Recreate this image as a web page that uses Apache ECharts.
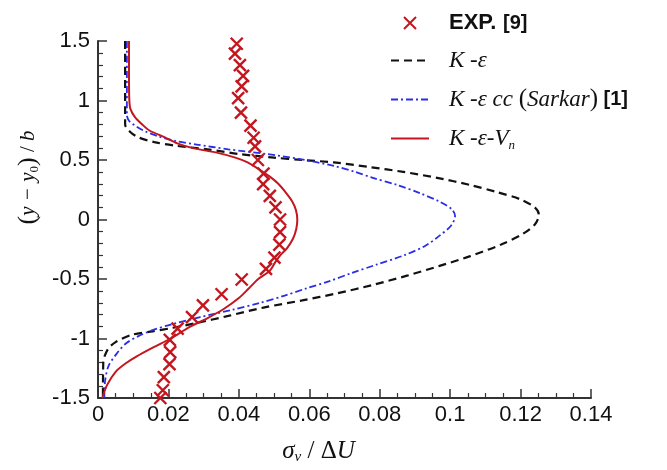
<!DOCTYPE html>
<html>
<head>
<meta charset="utf-8">
<script src="https://cdn.jsdelivr.net/npm/echarts@6/dist/echarts.min.js"></script>
<style>
  html, body { margin: 0; padding: 0; background: #ffffff; }
  #chart { width: 667px; height: 470px; }
</style>
</head>
<body>
<div id="chart"></div>
<script>
// Measured profile: sigma_v / dU (x) against (y - y0) / b (y)
const expX = [0.0394, 0.0389, 0.0403, 0.0412, 0.0408, 0.0398, 0.0406, 0.0433, 0.0442, 0.0446,
              0.0454, 0.0470, 0.0469, 0.0488, 0.0504, 0.0517, 0.0517, 0.0515, 0.0501, 0.0477,
              0.0408, 0.0351, 0.0298, 0.0267, 0.0226, 0.0204, 0.0205, 0.0203, 0.0187, 0.0184, 0.0177];
const expY = [1.477, 1.394, 1.297, 1.207, 1.118, 1.020, 0.898, 0.789, 0.687, 0.614,
              0.500, 0.386, 0.297, 0.199, 0.102, 0.000, -0.106, -0.211, -0.321, -0.415,
              -0.504, -0.628, -0.721, -0.821, -0.917, -1.012, -1.115, -1.215, -1.325, -1.435, -1.500];

// Standard K-epsilon model
const keY = [1.5, 0.8, 0.74, 0.69, 0.65, 0.62, 0.59, 0.55, 0.52, 0.5, 0.48, 0.44, 0.40, 0.35, 0.29, 0.23,
             0.17, 0.10, 0.04, -0.04, -0.12, -0.21, -0.31, -0.39, -0.47, -0.55, -0.62, -0.68, -0.74,
             -0.81, -0.87, -0.91, -0.94, -0.97, -1.03, -1.09, -1.2, -1.5];
const keX = [0.0077, 0.0077, 0.0090, 0.0115, 0.0160, 0.0220, 0.0310, 0.0400, 0.0500, 0.0580, 0.0670,
             0.0773, 0.0867, 0.0963, 0.1057, 0.1133, 0.1199, 0.1241, 0.1252, 0.1241, 0.1207, 0.1145,
             0.1055, 0.0970, 0.0880, 0.0780, 0.0680, 0.0580, 0.0470, 0.0370, 0.0280, 0.0213, 0.0155,
             0.0095, 0.0050, 0.0028, 0.0015, 0.0014];

// K-epsilon with compressibility correction (Sarkar)
const kccY = [1.5, 0.88, 0.83, 0.78, 0.74, 0.70, 0.66, 0.63, 0.59, 0.55, 0.51, 0.45, 0.40, 0.35, 0.29,
              0.22, 0.15, 0.085, 0.03, -0.05, -0.14, -0.22, -0.30, -0.38, -0.45, -0.52, -0.58, -0.64,
              -0.70, -0.76, -0.82, -0.88, -0.93, -0.98, -1.04, -1.12, -1.23, -1.36, -1.5];
const kccX = [0.0082, 0.0082, 0.0088, 0.0110, 0.0135, 0.0170, 0.0220, 0.0280, 0.0370, 0.0480, 0.0570,
              0.0670, 0.0730, 0.0780, 0.0850, 0.0915, 0.0970, 0.1005, 0.1014, 0.1003, 0.0968, 0.0930,
              0.0870, 0.0790, 0.0720, 0.0655, 0.0590, 0.0530, 0.0460, 0.0380, 0.0290, 0.0210, 0.0155,
              0.0115, 0.0080, 0.0055, 0.0030, 0.0020, 0.0018];

// K-epsilon-Vn model
const kvnY = [1.5, 1.2, 1.0, 0.93, 0.86, 0.80, 0.75, 0.69, 0.64, 0.60, 0.56, 0.52, 0.48, 0.42, 0.36,
              0.30, 0.22, 0.15, 0.08, 0.0, -0.08, -0.16, -0.24, -0.30, -0.36, -0.43, -0.50, -0.58,
              -0.66, -0.75, -0.83, -0.90, -1.0, -1.07, -1.15, -1.21, -1.28, -1.39, -1.5];
const kvnX = [0.0088, 0.0088, 0.0089, 0.0092, 0.0105, 0.0125, 0.0145, 0.0190, 0.0225, 0.0270, 0.0340,
              0.0390, 0.0425, 0.0458, 0.0488, 0.0512, 0.0535, 0.0552, 0.0562, 0.0566, 0.0563, 0.0554,
              0.0537, 0.0518, 0.0503, 0.0488, 0.0455, 0.0428, 0.0400, 0.0358, 0.0310, 0.0262, 0.0206,
              0.0160, 0.0110, 0.0078, 0.0050, 0.0026, 0.0012];

const xTicks = { min: 0, max: 0.14, step: 0.02 };
const yTicks = { min: -1.5, max: 1.5, step: 0.5 };

const pairs = (xs, ys) => xs.map((x, i) => [x, ys[i]]);

const RED = '#c4161f';
const BLUE = '#2a2ee6';
const BLACK = '#111111';
const AXIS = '#333333';
const crossPath = 'path://M0,0L10,10M10,0L0,10';

const chart = echarts.init(document.getElementById('chart'), null, { renderer: 'canvas' });

// line entries in the legend show the stroke only, without the point marker
const lineEntry = name => ({ name: name, itemStyle: { opacity: 0 } });

chart.setOption({
  backgroundColor: '#ffffff',
  animation: false,
  grid: { left: 98, right: 76, top: 41, bottom: 60, containLabel: false },
  legend: {
    orient: 'vertical',
    left: 385,
    top: 7,
    itemWidth: 38,
    itemHeight: 12,
    itemGap: 15,
    data: [
      { name: 'EXP. [9]' },
      lineEntry('K-ε'),
      lineEntry('K-ε cc (Sarkar) [1]'),
      lineEntry('K-ε-Vn')
    ],
    textStyle: {
      padding: [0, 0, 0, 15],
      color: '#111',
      rich: {
        exp: { fontFamily: 'Liberation Sans', fontWeight: 'bold', fontSize: 22, color: '#111' },
        ref: { fontFamily: 'Liberation Sans', fontWeight: 'bold', fontSize: 20, color: '#111' },
        it: { fontFamily: 'Liberation Serif', fontStyle: 'italic', fontSize: 23, color: '#111' },
        par: { fontFamily: 'Liberation Serif', fontSize: 25, color: '#111' },
        sub: { fontFamily: 'Liberation Serif', fontStyle: 'italic', fontSize: 13, color: '#111', padding: [14, 0, 0, 0] }
      }
    },
    formatter: function (name) {
      if (name === 'EXP. [9]') return '{exp|EXP.}  {ref|[9]}';
      if (name === 'K-ε') return '{it|K -ε}';
      if (name === 'K-ε cc (Sarkar) [1]') return '{it|K -ε cc }{par|(}{it|Sarkar}{par|)}{ref| [1]}';
      return '{it|K -ε-V}{sub|n}';
    }
  },
  xAxis: {
    type: 'value',
    min: xTicks.min,
    max: xTicks.max,
    interval: xTicks.step,
    name: '{it|σ}{sub|ν}{n| / Δ}{it|U}',
    nameLocation: 'middle',
    nameGap: 40,
    nameTextStyle: {
      padding: [0, 52, 0, 0],
      rich: {
        it: { fontFamily: 'Liberation Serif', fontStyle: 'italic', fontSize: 25, color: '#111' },
        n: { fontFamily: 'Liberation Serif', fontSize: 25, color: '#111' },
        sub: { fontFamily: 'Liberation Serif', fontStyle: 'italic', fontSize: 15, color: '#111', padding: [12, 0, 0, 0] }
      }
    },
    axisLine: { show: true, onZero: false, lineStyle: { color: AXIS, width: 2 } },
    axisTick: { show: true, inside: true, length: 9, lineStyle: { color: AXIS, width: 1.5 } },
    minorTick: { show: true, splitNumber: 4, length: 5, lineStyle: { color: AXIS, width: 1.2 } },
    splitLine: { show: false },
    axisLabel: {
      margin: 6,
      fontFamily: 'Liberation Sans',
      fontSize: 22,
      color: '#111',
      formatter: v => String(Math.round(v * 100) / 100)
    }
  },
  yAxis: {
    type: 'value',
    min: yTicks.min,
    max: yTicks.max,
    interval: yTicks.step,
    name: '{par|(}{it|y − y}{sub|0}{par|)}{n| / }{it|b}',
    nameLocation: 'middle',
    nameRotate: 90,
    nameGap: 52,
    nameTextStyle: {
      padding: [0, 0, 0, 84],
      rich: {
        it: { fontFamily: 'Liberation Serif', fontStyle: 'italic', fontSize: 21, color: '#111' },
        n: { fontFamily: 'Liberation Serif', fontSize: 21, color: '#111' },
        par: { fontFamily: 'Liberation Serif', fontSize: 26, color: '#111' },
        sub: { fontFamily: 'Liberation Serif', fontSize: 13, color: '#111', padding: [12, 0, 0, 0] }
      }
    },
    axisLine: { show: true, onZero: false, lineStyle: { color: AXIS, width: 2 } },
    axisTick: { show: true, inside: true, length: 9, lineStyle: { color: AXIS, width: 1.5 } },
    minorTick: { show: true, splitNumber: 5, length: 5, lineStyle: { color: AXIS, width: 1.2 } },
    splitLine: { show: false },
    axisLabel: {
      margin: 8,
      fontFamily: 'Liberation Sans',
      fontSize: 22,
      color: '#111',
      formatter: v => String(Math.round(v * 10) / 10)
    }
  },
  series: [
    {
      name: 'EXP. [9]',
      type: 'scatter',
      symbol: crossPath,
      symbolSize: 12,
      clip: false,
      z: 5,
      itemStyle: { color: 'rgba(0,0,0,0)', borderColor: RED, borderWidth: 2.4, opacity: 1 },
      data: pairs(expX, expY)
    },
    {
      name: 'K-ε',
      type: 'line',
      symbol: 'none',
      smooth: 0.3,
      lineStyle: { color: BLACK, width: 2.2, type: [8, 5] },
      itemStyle: { color: BLACK },
      data: pairs(keX, keY)
    },
    {
      name: 'K-ε cc (Sarkar) [1]',
      type: 'line',
      symbol: 'none',
      smooth: 0.3,
      lineStyle: { color: BLUE, width: 1.8, type: [7, 3, 2, 3] },
      itemStyle: { color: BLUE },
      data: pairs(kccX, kccY)
    },
    {
      name: 'K-ε-Vn',
      type: 'line',
      symbol: 'none',
      smooth: 0.3,
      lineStyle: { color: RED, width: 2 },
      itemStyle: { color: RED },
      data: pairs(kvnX, kvnY)
    }
  ]
});
</script>
</body>
</html>
